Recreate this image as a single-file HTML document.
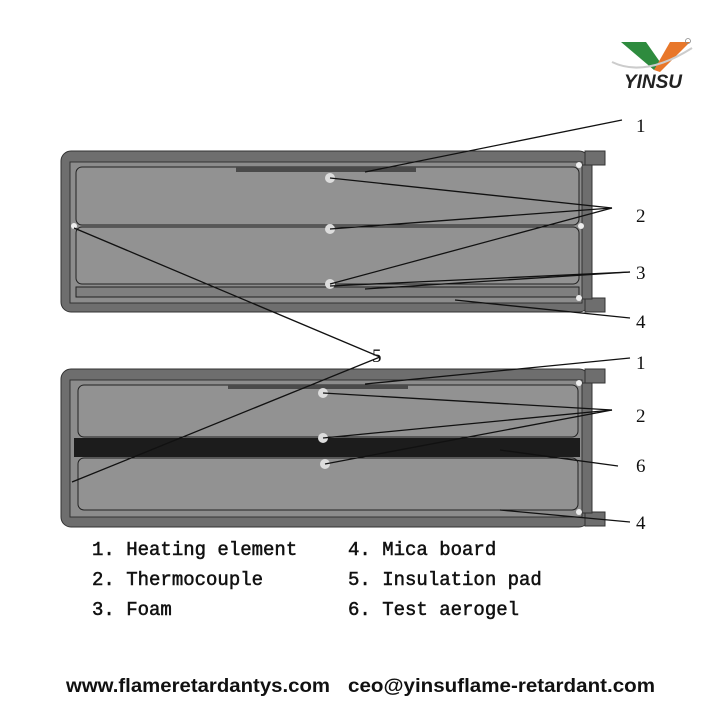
<!DOCTYPE html>
<html><head><meta charset="utf-8"><style>
html,body{margin:0;padding:0;background:#fff;width:720px;height:720px;overflow:hidden}
svg{display:block}
</style></head><body>
<svg width="720" height="720" viewBox="0 0 720 720" xmlns="http://www.w3.org/2000/svg">
<!-- logo -->
<g>
<path d="M621 42 L646 42 L660 62 L654 70 Z" fill="#2e8b3e"/>
<path d="M654 70 L670 42 L690 42 L660 72 Z" fill="#e8772a"/>
<path d="M612 62 Q645 78 692 48" stroke="#ccc" stroke-width="2" fill="none"/>
<circle cx="688" cy="41" r="2.5" fill="none" stroke="#888" stroke-width="0.8"/>
<text x="653" y="88" font-family="Liberation Sans, sans-serif" font-size="19" font-weight="bold" font-style="italic" fill="#222" text-anchor="middle">YINSU</text>
</g>

<!-- top box -->
<g>
<rect x="61" y="151" width="528" height="161" rx="10" fill="#6e6e6e" stroke="#333" stroke-width="1"/>
<rect x="585" y="151" width="20" height="14" fill="#6e6e6e" stroke="#333"/>
<rect x="585" y="298" width="20" height="14" fill="#6e6e6e" stroke="#333"/>
<rect x="70" y="162" width="512" height="141" fill="#8c8c8c" stroke="#333"/>
<rect x="582" y="165" width="10" height="134" fill="#6e6e6e" stroke="#333"/>
<rect x="76" y="167" width="503" height="58" rx="6" fill="#929292" stroke="#222"/>
<rect x="76" y="227" width="503" height="57" rx="6" fill="#929292" stroke="#222"/>
<rect x="76" y="287" width="503" height="10" fill="#7f7f7f" stroke="#222"/>
<rect x="236" y="167" width="180" height="5" fill="#4a4a4a"/>
<circle cx="330" cy="178" r="5" fill="#ddd"/>
<circle cx="330" cy="229" r="5" fill="#ddd"/>
<circle cx="330" cy="284" r="5" fill="#ddd"/>
<circle cx="74" cy="226" r="3" fill="#eee"/><circle cx="581" cy="226" r="3" fill="#eee"/>
<circle cx="579" cy="165" r="3" fill="#eee"/><circle cx="579" cy="298" r="3" fill="#eee"/>
</g>

<!-- bottom box -->
<g>
<rect x="61" y="369" width="528" height="158" rx="10" fill="#6e6e6e" stroke="#333"/>
<rect x="585" y="369" width="20" height="14" fill="#6e6e6e" stroke="#333"/>
<rect x="585" y="512" width="20" height="14" fill="#6e6e6e" stroke="#333"/>
<rect x="70" y="380" width="512" height="137" fill="#8c8c8c" stroke="#333"/>
<rect x="582" y="383" width="10" height="130" fill="#6e6e6e" stroke="#333"/>
<rect x="78" y="385" width="500" height="52" rx="6" fill="#929292" stroke="#222"/>
<rect x="74" y="438" width="506" height="19" fill="#1c1c1c"/>
<rect x="78" y="458" width="500" height="52" rx="6" fill="#929292" stroke="#222"/>
<rect x="228" y="385" width="180" height="4" fill="#4a4a4a"/>
<circle cx="323" cy="393" r="5" fill="#ddd"/>
<circle cx="323" cy="438" r="5" fill="#ddd"/>
<circle cx="325" cy="464" r="5" fill="#ddd"/>
<circle cx="579" cy="383" r="3" fill="#eee"/><circle cx="579" cy="512" r="3" fill="#eee"/>
</g>

<!-- leader lines -->
<g stroke="#111" stroke-width="1.3" fill="none">
<line x1="365" y1="172" x2="622" y2="120"/>
<line x1="330" y1="178" x2="612" y2="208"/>
<line x1="330" y1="229" x2="612" y2="208"/>
<line x1="330" y1="284" x2="612" y2="208"/>
<line x1="330" y1="286" x2="630" y2="272"/>
<line x1="365" y1="289" x2="630" y2="272"/>
<line x1="455" y1="300" x2="630" y2="318"/>
<line x1="74" y1="228" x2="380" y2="357"/>
<line x1="72" y1="482" x2="380" y2="357"/>
<line x1="365" y1="384" x2="630" y2="358"/>
<line x1="323" y1="393" x2="612" y2="410"/>
<line x1="323" y1="438" x2="612" y2="410"/>
<line x1="325" y1="464" x2="612" y2="410"/>
<line x1="500" y1="450" x2="618" y2="466"/>
<line x1="500" y1="510" x2="630" y2="522"/>
</g>
<g font-family="Liberation Serif, serif" font-size="19" fill="#111">
<text x="636" y="132">1</text>
<text x="636" y="222">2</text>
<text x="636" y="279">3</text>
<text x="636" y="328">4</text>
<text x="372" y="362">5</text>
<text x="636" y="369">1</text>
<text x="636" y="422">2</text>
<text x="636" y="472">6</text>
<text x="636" y="529">4</text>
</g>

<g font-family="Liberation Mono, monospace" font-size="19" fill="#111" stroke="#111" stroke-width="0.5">
<text x="92" y="555">1. Heating element</text>
<text x="92" y="585">2. Thermocouple</text>
<text x="92" y="615">3. Foam</text>
<text x="348" y="555">4. Mica board</text>
<text x="348" y="585">5. Insulation pad</text>
<text x="348" y="615">6. Test aerogel</text>
</g>
<g font-family="Liberation Sans, sans-serif" font-size="19" font-weight="bold" fill="#111">
<text x="66" y="692" textLength="264" lengthAdjust="spacingAndGlyphs">www.flameretardantys.com</text>
<text x="348" y="692" textLength="307" lengthAdjust="spacingAndGlyphs">ceo@yinsuflame-retardant.com</text>
</g>
</svg>
</body></html>
